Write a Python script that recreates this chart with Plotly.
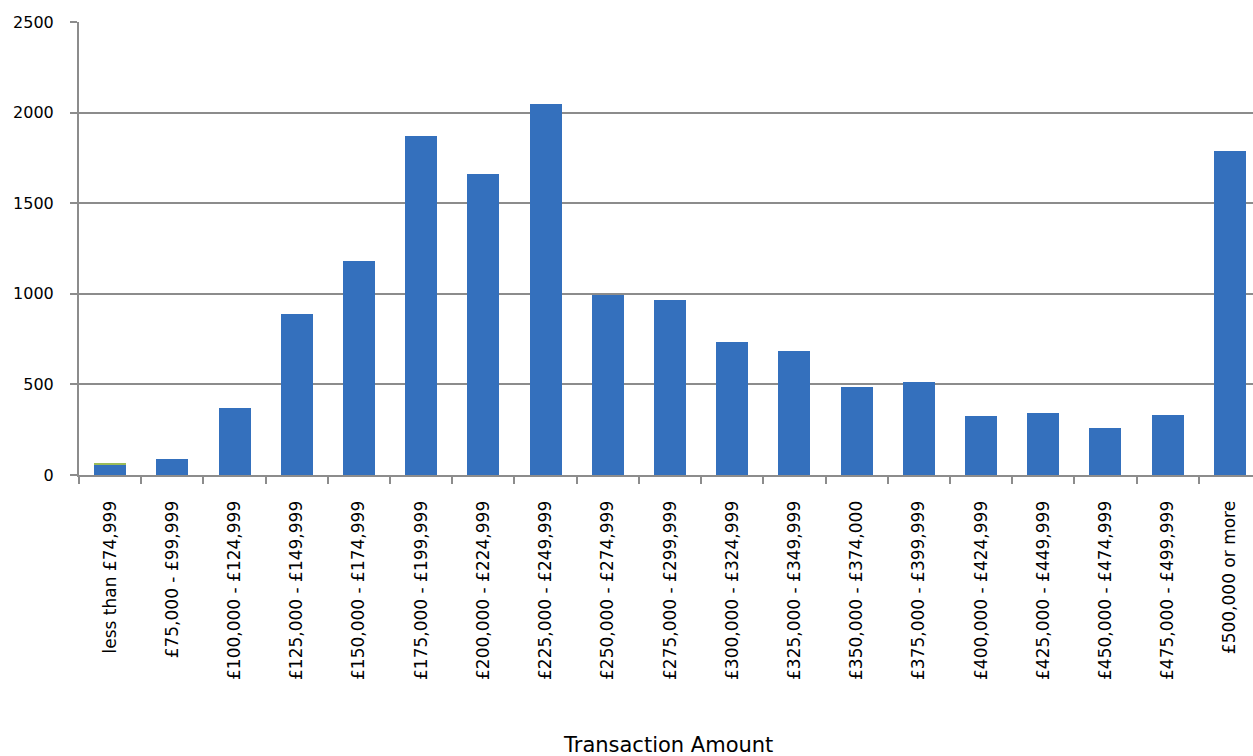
import plotly.graph_objects as go

categories = ["less than £74,999", "£75,000 - £99,999", "£100,000 - £124,999", "£125,000 - £149,999",
              "£150,000 - £174,999", "£175,000 - £199,999", "£200,000 - £224,999", "£225,000 - £249,999",
              "£250,000 - £274,999", "£275,000 - £299,999", "£300,000 - £324,999", "£325,000 - £349,999",
              "£350,000 - £374,000", "£375,000 - £399,999", "£400,000 - £424,999", "£425,000 - £449,999",
              "£450,000 - £474,999", "£475,000 - £499,999", "£500,000 or more"]
main_values = [58, 88, 370, 888, 1181, 1871, 1661, 2047, 993, 966, 734, 684, 486, 513, 326, 342, 259, 331, 1788]
extra_values = [8, 0, 0, 0, 0, 0, 0, 0, 0, 0, 0, 0, 0, 0, 0, 0, 0, 0, 0]
y_ticks = [0, 500, 1000, 1500, 2000, 2500]

FONT = "DejaVu Sans"
fig = go.Figure()
fig.add_trace(go.Bar(x=categories, y=main_values, marker=dict(color="#3470bd", line=dict(width=0)),
                     showlegend=False, hoverinfo="skip"))
fig.add_trace(go.Bar(x=categories, y=extra_values, marker=dict(color="#9bbb59", line=dict(width=0)),
                     showlegend=False, hoverinfo="skip"))

fig.update_layout(
    width=1261, height=756,
    barmode="stack", bargap=0.486,
    plot_bgcolor="white", paper_bgcolor="white",
    margin=dict(l=79, r=0, t=22, b=281),
    font=dict(family=FONT, color="black"),
    xaxis=dict(tickangle=-90, tickfont=dict(size=17, family=FONT), showline=True, linecolor="#8c8c8c",
               linewidth=2, ticks="outside", tickson="boundaries", ticklen=7, tickcolor="#8c8c8c",
               tickwidth=2, showgrid=False, ticklabelstandoff=17, automargin=False),
    yaxis=dict(range=[0, 2500], tickvals=y_ticks, tickfont=dict(size=16, family=FONT), showline=True,
               linecolor="#8c8c8c", linewidth=2, ticks="outside", ticklen=7, tickcolor="#8c8c8c",
               tickwidth=2, showgrid=True, gridcolor="#8c8c8c", gridwidth=1.5, zeroline=False,
               ticklabelstandoff=13, automargin=False),
    annotations=[dict(text="Transaction Amount", xref="paper", yref="paper", x=0.498, y=-0.597,
                      xanchor="center", yanchor="middle", showarrow=False,
                      font=dict(size=21, family=FONT))],
)

fig.write_html("out.html", config={"displayModeBar": False},
               post_script="document.body.style.margin='0';document.body.style.overflow='hidden';")
